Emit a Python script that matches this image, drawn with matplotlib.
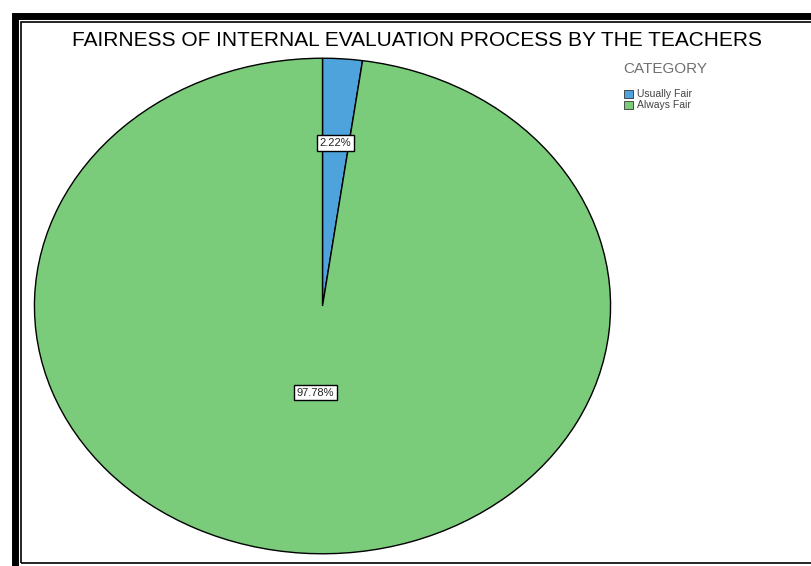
import numpy as np
import matplotlib
matplotlib.use("Agg")
import matplotlib.pyplot as plt
from matplotlib.patches import Rectangle, Patch

categories = ["Usually Fair", "Always Fair"]
percent = [2.22, 97.78]
colors = ["#4ea3dc", "#7acb7a"]
label_dist = [0.66, 0.35]
title = "FAIRNESS OF INTERNAL EVALUATION PROCESS BY THE TEACHERS"

plt.rcParams['font.family'] = ['Liberation Sans', 'DejaVu Sans']

fig = plt.figure(figsize=(8.11, 5.66), dpi=100)
fig.patch.set_facecolor("white")

# frame lines
fig.add_artist(Rectangle((15/811, -0.05), 1.2, (566-16)/566 + 0.05, transform=fig.transFigure,
                         fill=False, edgecolor="black", linewidth=5))
fig.add_artist(Rectangle((21/811, (566-563)/566), 1.2, (563-22)/566, transform=fig.transFigure,
                         fill=False, edgecolor="black", linewidth=1.2))

ax = fig.add_axes([33/811, (566-555)/566, 579/811, 498/566])
wedges, texts = ax.pie(percent, colors=colors, startangle=90, counterclock=False,
                       wedgeprops=dict(edgecolor="black", linewidth=1.0))
ax.set_aspect("auto")
ax.set_xlim(-1.005, 1.005)
ax.set_ylim(-1.005, 1.005)

for w, p, d in zip(wedges, percent, label_dist):
    ang = np.deg2rad((w.theta1 + w.theta2) / 2)
    ax.text(d * np.cos(ang), d * np.sin(ang), f"{p:.2f}%", ha="center", va="center",
            fontsize=8, color="#222222",
            bbox=dict(boxstyle="square,pad=0.25", facecolor="white", edgecolor="black", linewidth=1))

fig.text(417/811, 1 - 41/566, title, ha="center", va="center", fontsize=15, color="#000000")

fig.text(623/811, 1 - 69/566, "CATEGORY", ha="left", va="center", fontsize=11,
         color="#707070")
handles = [Patch(facecolor=c, edgecolor="#333333", linewidth=0.6) for c in colors]
leg = fig.legend(handles, categories, loc="upper left",
                 bbox_to_anchor=(617/811, 1 - 82/566), frameon=False, fontsize=7.5,
                 handlelength=0.8, handleheight=0.8, handletextpad=0.4,
                 labelspacing=0.1, borderpad=0.2)
for t in leg.get_texts():
    t.set_color("#444444")

fig.savefig("out.png", dpi=100, facecolor="white")
